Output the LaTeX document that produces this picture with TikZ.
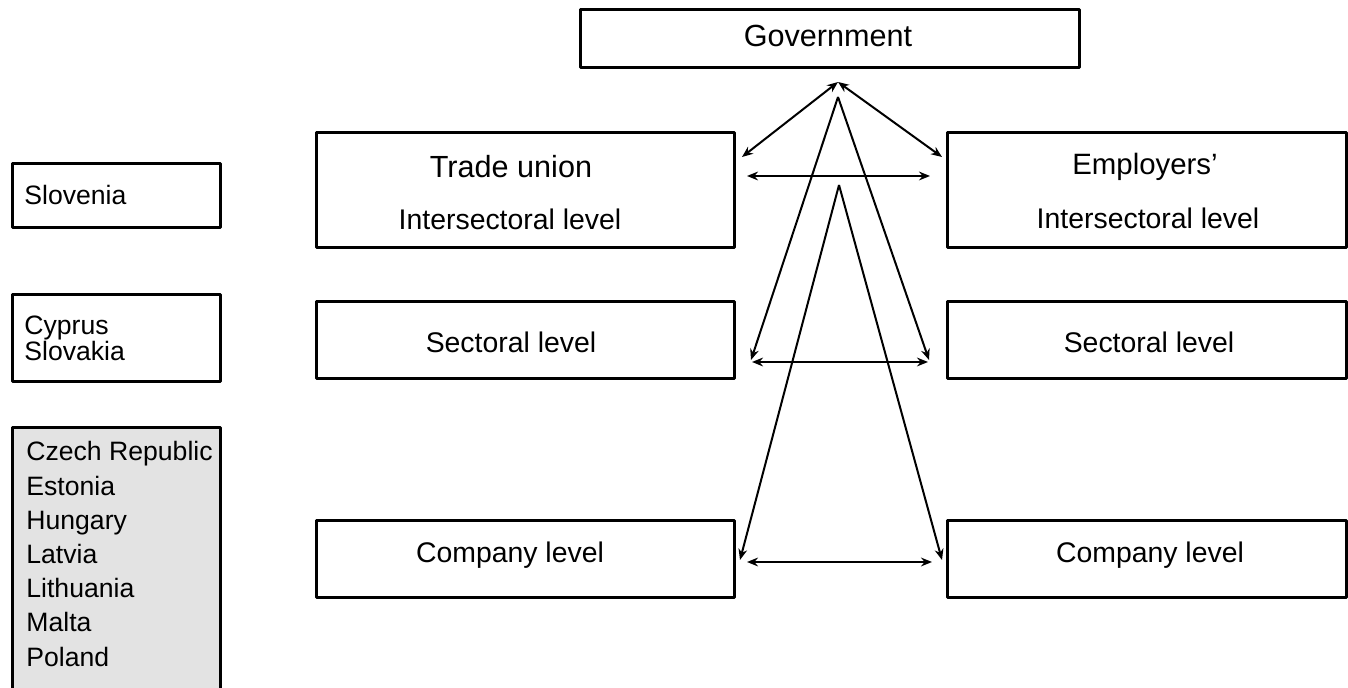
\documentclass[tikz,border=0pt]{standalone}
\usepackage{fontspec}
\setmainfont{Liberation Sans}
\usetikzlibrary{arrows.meta}
\begin{document}
\begin{tikzpicture}[x=0.5pt, y=-0.5pt, line join=round, >={Stealth[length=5.5pt,width=4.4pt]},
	box/.style={draw, line width=1.5pt, inner sep=0pt},
	midbox/.style={box, minimum width=209pt, minimum height=38.5pt},
	rightbox/.style={box, minimum width=199.5pt, minimum height=38.5pt},
	leftbox/.style={box, minimum width=104pt},
	head/.style={font=\fontsize{15.3}{18}\selectfont},
	lvl/.style={font=\fontsize{14.2}{17}\selectfont},
	link/.style={<->, line width=1pt},
	flat/.style={<->, line width=1.4pt},
	down/.style={->, line width=1pt}]
	\useasboundingbox (0,0) rectangle (1348,688);
	% boxes
	\node[box, minimum width=249.5pt, minimum height=29pt] (gov) at (829.5,39) {};
	\node[midbox, minimum height=57.5pt] (tu) at (525,190.5) {};
	\node[rightbox, minimum height=57.5pt] (emp) at (1146.5,190.5) {};
	\node[midbox] (secL) at (525,340.5) {};
	\node[rightbox] (secR) at (1146.5,340.5) {};
	\node[midbox] (comL) at (525,559.5) {};
	\node[rightbox] (comR) at (1146.5,559.5) {};
	\node[leftbox, minimum height=32pt] (slo) at (116,196) {};
	\node[leftbox, minimum height=43.5pt] (cyp) at (116,338.5) {};
	\node[leftbox, minimum height=136pt, fill=black!11] (cze) at (116,564) {};
	% texts
	\node[head] at (828,36) {Government};
	\node[head] at (511,167) {Trade union};
	\node[lvl] at (510,219) {Intersectoral level};
	\node[head, font=\fontsize{14.7}{17}\selectfont] at (1145,167) {Employers'};
	\node[lvl] at (1148,218) {Intersectoral level};
	\node[lvl] at (511,342) {Sectoral level};
	\node[lvl] at (1149,342) {Sectoral level};
	\node[lvl] at (510,555) {Company level};
	\node[lvl] at (1150,555) {Company level};
	\node[anchor=west, inner sep=0pt, font=\fontsize{13.3}{16}\selectfont] at (24,195) {Slovenia};
	\node[anchor=west, inner sep=0pt, align=left, font=\fontsize{13.3}{13}\selectfont] at (24,338) {Cyprus\\Slovakia};
	\node[anchor=west, inner sep=0pt, align=left, font=\fontsize{13.3}{17.1}\selectfont] at (26,554) {Czech Republic\\Estonia\\Hungary\\Latvia\\Lithuania\\Malta\\Poland};
	% arrows
	\coordinate (top) at (838,82);
	\coordinate (tuTip) at (742,157);
	\coordinate (empTip) at (942,157);
	\coordinate (midTop) at (838,97);
	\coordinate (secLTip) at (751,360);
	\coordinate (secRTip) at (929,360);
	\coordinate (lowTop) at (839,185);
	\coordinate (comLTip) at (740,560);
	\coordinate (comRTip) at (942,560);
	\coordinate (h1L) at (747,176); \coordinate (h1R) at (930,176);
	\coordinate (h2L) at (752,362); \coordinate (h2R) at (928,362);
	\coordinate (h3L) at (747,562); \coordinate (h3R) at (932,562);
	\draw[link] (top) -- (tuTip);
	\draw[link] (top) -- (empTip);
	\draw[down] (midTop) -- (secLTip);
	\draw[down] (midTop) -- (secRTip);
	\draw[down] (lowTop) -- (comLTip);
	\draw[down] (lowTop) -- (comRTip);
	\draw[flat] (h1L) -- (h1R);
	\draw[flat] (h2L) -- (h2R);
	\draw[flat] (h3L) -- (h3R);
\end{tikzpicture}
\end{document}
